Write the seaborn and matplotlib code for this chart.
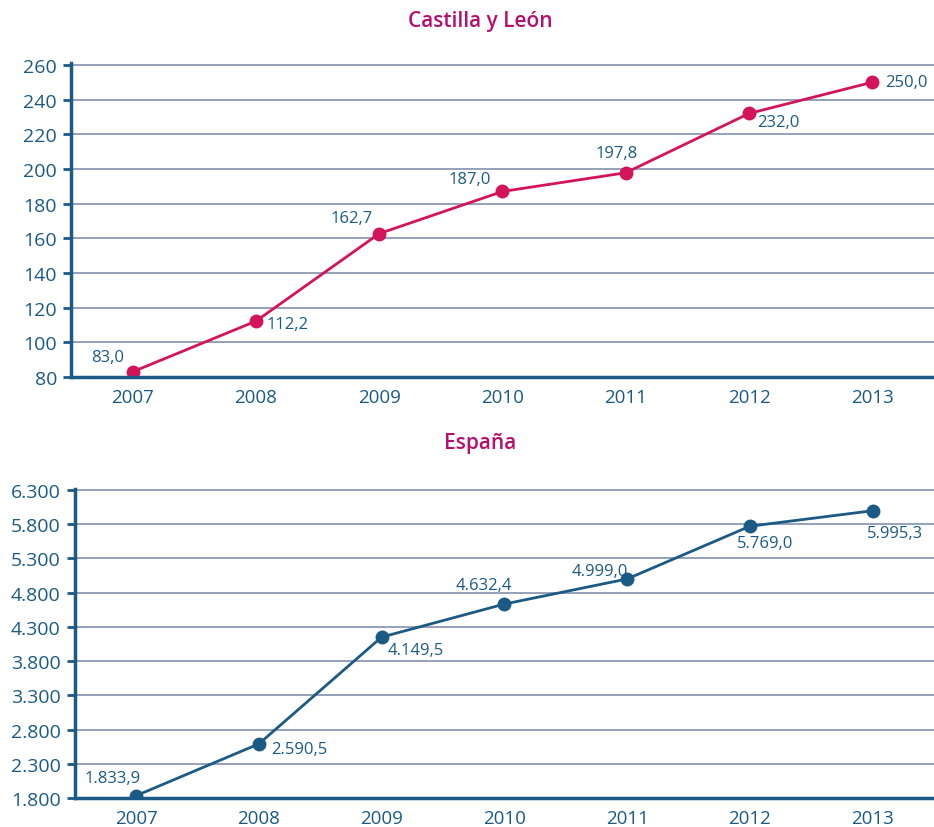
import numpy as np
import pandas as pd
import seaborn as sns
import matplotlib.pyplot as plt
from matplotlib.ticker import FixedLocator

# data
years = ['2007', '2008', '2009', '2010', '2011', '2012', '2013']
cyl_values = [83.0, 112.2, 162.7, 187.0, 197.8, 232.0, 250.0]
esp_values = [1833.9, 2590.5, 4149.5, 4632.4, 4999.0, 5769.0, 5995.3]
cyl_ticks = [80, 100, 120, 140, 160, 180, 200, 220, 240, 260]
esp_ticks = [1800, 2300, 2800, 3300, 3800, 4300, 4800, 5300, 5800, 6300]

# label offsets (points) for each data label
cyl_offsets = [(-30, 11), (8, -2), (-35, 11), (-39, 9), (-22, 14), (6, -6), (9, 0)]
esp_offsets = [(-37, 13), (9, -4), (4, -9), (-35, 14), (-40, 6), (-9, -12), (-4, -16)]

sns.set_theme(style='white')
plt.rcParams['font.family'] = ['Open Sans', 'DejaVu Sans']

BLUE = '#1b5a85'
RED = '#d4145a'
TITLE = '#b5106e'
GRID = '#8c9ab4'


def fmt_es(v, dec=1):
    s = f'{v:,.{dec}f}'
    return s.replace(',', 'X').replace('.', ',').replace('X', '.')


def draw_panel(ax, values, ticks, color, offsets, ylim):
    df = pd.DataFrame({'pos': np.arange(len(years)), 'value': values})
    sns.lineplot(data=df, x='pos', y='value', ax=ax, color=color, linewidth=2,
                 marker='o', markersize=10, markeredgewidth=0)
    for (p, v), off in zip(zip(df['pos'], df['value']), offsets):
        ax.annotate(fmt_es(v), (p, v), xytext=off, textcoords='offset points',
                    ha='left', va='center', fontsize=12, color=BLUE)
    ax.set_xlim(-0.5, len(years) - 0.5)
    ax.set_ylim(*ylim)
    ax.set_yticks(ticks)
    ax.set_yticklabels([fmt_es(t, 0) for t in ticks], fontsize=14, color=BLUE)
    for t in ticks[1:]:
        ax.axhline(t, color=GRID, linewidth=1.3, zorder=0)
    ax.set_xticks(np.arange(len(years)))
    ax.set_xticklabels(years, fontsize=13.5, color=BLUE)
    ax.xaxis.set_minor_locator(FixedLocator(np.arange(len(years) + 1) - 0.5))
    ax.tick_params(axis='x', which='major', length=0, pad=8)
    ax.tick_params(axis='x', which='minor', length=9, width=2, color=BLUE, direction='out')
    ax.tick_params(axis='y', length=6, width=2, color=BLUE, direction='out', pad=4)
    ax.tick_params(axis='both', left=True, bottom=True)
    for s in ['top', 'right']:
        ax.spines[s].set_visible(False)
    for s in ['left', 'bottom']:
        ax.spines[s].set_color(BLUE)
        ax.spines[s].set_linewidth(2.5)
    ax.set_xlabel('')
    ax.set_ylabel('')


fig = plt.figure(figsize=(9.34, 8.28), dpi=100)
ax1 = fig.add_axes([0.076, 0.5435, 0.924, 0.379])
ax2 = fig.add_axes([0.080, 0.035, 0.920, 0.373])

draw_panel(ax1, cyl_values, cyl_ticks, RED, cyl_offsets, (80, 261))
draw_panel(ax2, esp_values, esp_ticks, BLUE, esp_offsets, (1800, 6310))

fig.text(480 / 934, 1 - 22 / 828, 'Castilla y León', ha='center', va='center',
         fontsize=15, fontweight='semibold', color=TITLE)
fig.text(480 / 934, 1 - 443 / 828, 'España', ha='center', va='center',
         fontsize=15, fontweight='semibold', color=TITLE)

fig.savefig('out.png', dpi=100, facecolor='white')
